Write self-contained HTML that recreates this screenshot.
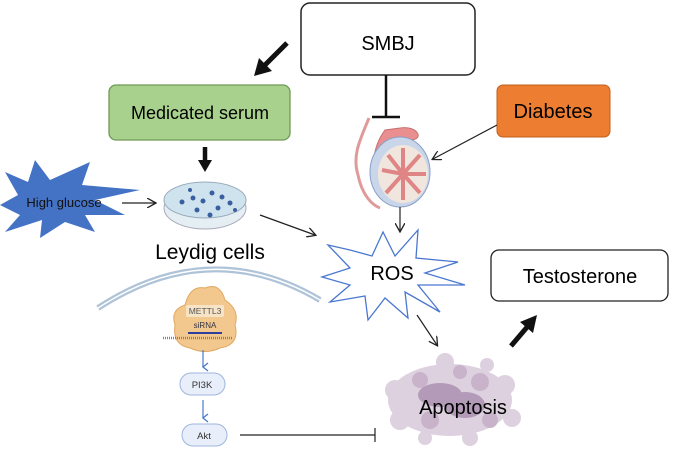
<!DOCTYPE html>
<html><head><style>
html,body{margin:0;padding:0;background:#fff;}
svg{display:block;font-family:"Liberation Sans",Arial,sans-serif;}
</style></head><body>
<svg width="685" height="451" viewBox="0 0 685 451" xmlns="http://www.w3.org/2000/svg">
<defs>
<marker id="a" markerWidth="10" markerHeight="10" refX="8" refY="5" orient="auto" markerUnits="userSpaceOnUse"><path d="M0,0 L9,5 L0,10" fill="none" stroke="#222" stroke-width="1.3"/></marker>
<marker id="b" markerWidth="10" markerHeight="10" refX="5" refY="8" orient="auto" markerUnits="userSpaceOnUse"><path d="M1,3 L5,8 L9,3" fill="none" stroke="#4a78d0" stroke-width="1.3"/></marker>
</defs>
<rect x="301" y="3" width="174" height="72" rx="9" fill="#fff" stroke="#222" stroke-width="1.5"/>
<text x="388" y="50" font-size="20" text-anchor="middle">SMBJ</text>
<line x1="287" y1="43" x2="265" y2="65" stroke="#111" stroke-width="5"/>
<polygon points="254,76 259,58 272,71" fill="#111"/>
<rect x="109" y="85" width="181" height="55" rx="7" fill="#a9d18e" stroke="#6f9a55" stroke-width="1.3"/>
<text x="200" y="119" font-size="18" text-anchor="middle">Medicated serum</text>
<line x1="205" y1="147" x2="205" y2="162" stroke="#111" stroke-width="4.5"/>
<polygon points="198,160 212,160 205,172" fill="#111"/>
<rect x="497" y="85" width="113" height="52" rx="6" fill="#ed7d31" stroke="#c05f1c"/>
<text x="553" y="118" font-size="20" text-anchor="middle">Diabetes</text>
<line x1="497" y1="125" x2="433" y2="159" stroke="#222" stroke-width="1.2" marker-end="url(#a)"/>
<line x1="386" y1="75" x2="386" y2="116" stroke="#111" stroke-width="2.5"/>
<line x1="372" y1="117" x2="400" y2="117" stroke="#111" stroke-width="2.5"/>
<path d="M369,118 C360,140 352,155 358,175 C362,195 372,205 380,208" fill="none" stroke="#e09a9a" stroke-width="3"/>
<path d="M385,130 C370,150 372,175 378,190 C372,170 380,145 410,140 C425,140 418,125 400,128 Z" fill="#e98f8f" stroke="#c87070"/>
<ellipse cx="400" cy="172" rx="30" ry="35" fill="#c9d6ea" stroke="#8aa0c8"/>
<ellipse cx="403" cy="174" rx="25" ry="29" fill="#f1e6dd"/>
<g stroke="#e08585" stroke-width="4">
<line x1="403" y1="174" x2="403" y2="148"/><line x1="403" y1="174" x2="420" y2="155"/><line x1="403" y1="174" x2="426" y2="174"/><line x1="403" y1="174" x2="420" y2="193"/><line x1="403" y1="174" x2="403" y2="200"/><line x1="403" y1="174" x2="386" y2="193"/><line x1="403" y1="174" x2="382" y2="170"/><line x1="403" y1="174" x2="388" y2="155"/>
</g>
<line x1="400" y1="207" x2="400" y2="231" stroke="#222" stroke-width="1.2" marker-end="url(#a)"/>
<polygon points="5,172 28,182 35,160 50,180 90,162 82,185 140,190 95,200 125,215 85,215 95,232 65,222 40,238 42,220 5,232 20,215 0,205 18,195" fill="#4472c4"/>
<text x="64" y="207" font-size="13" text-anchor="middle" fill="#111">High glucose</text>
<line x1="122" y1="203" x2="155" y2="203" stroke="#222" stroke-width="1.2" marker-end="url(#a)"/>
<ellipse cx="205" cy="208" rx="41" ry="21" fill="#e4eef3" stroke="#aab"/>
<ellipse cx="205" cy="200" rx="41" ry="18" fill="#cfe3ee" stroke="#99aabb"/>
<g fill="#3a5fa0">
<circle cx="182" cy="202" r="2.5"/><circle cx="193" cy="198" r="2.5"/><circle cx="203" cy="201" r="2.5"/><circle cx="212" cy="193" r="2.5"/><circle cx="222" cy="197" r="2.5"/><circle cx="218" cy="208" r="2.5"/><circle cx="230" cy="203" r="2.5"/><circle cx="197" cy="210" r="2.5"/><circle cx="210" cy="215" r="2.5"/><circle cx="190" cy="190" r="2"/><circle cx="235" cy="210" r="2"/>
</g>
<text x="210" y="259" font-size="21" text-anchor="middle">Leydig cells</text>
<line x1="260" y1="215" x2="315" y2="235" stroke="#222" stroke-width="1.2" marker-end="url(#a)"/>
<polygon points="350,250 372,256 383,232 395,256 418,230 416,258 458,262 425,273 465,285 418,285 440,312 405,292 408,318 385,298 368,320 365,296 330,302 350,285 322,277 350,268 328,245" fill="#fff" stroke="#4a78d0" stroke-width="1.3"/>
<text x="392" y="280" font-size="20" text-anchor="middle">ROS</text>
<line x1="417" y1="315" x2="437" y2="345" stroke="#222" stroke-width="1.2" marker-end="url(#a)"/>
<rect x="491" y="250" width="177" height="51" rx="8" fill="#fff" stroke="#222" stroke-width="1.3"/>
<text x="580" y="283" font-size="20" text-anchor="middle">Testosterone</text>
<line x1="511" y1="346" x2="528" y2="326" stroke="#111" stroke-width="5"/>
<polygon points="537,315 533,333 520,322" fill="#111"/>
<g fill="#ddd0df">
<ellipse cx="450" cy="400" rx="62" ry="36"/><circle cx="395" cy="390" r="10"/><circle cx="400" cy="420" r="10"/><circle cx="505" cy="385" r="10"/><circle cx="512" cy="418" r="9"/><circle cx="445" cy="362" r="9"/><circle cx="470" cy="438" r="8"/><circle cx="425" cy="438" r="7"/><circle cx="487" cy="365" r="7"/>
</g>
<g fill="#c8b3cb"><circle cx="420" cy="380" r="8"/><circle cx="480" cy="382" r="9"/><circle cx="430" cy="420" r="9"/><circle cx="490" cy="420" r="8"/><circle cx="460" cy="372" r="7"/></g>
<g fill="#a88daf" opacity="0.8"><ellipse cx="440" cy="395" rx="22" ry="12"/><ellipse cx="465" cy="405" rx="20" ry="13"/></g>
<text x="463" y="414" font-size="20" text-anchor="middle">Apoptosis</text>
<path d="M98,308 Q210,235 320,300" fill="none" stroke="#aec3d8" stroke-width="6"/>
<path d="M98,308 Q210,235 320,300" fill="none" stroke="#fff" stroke-width="1.5"/>
<path d="M185,305 Q190,285 205,288 Q220,282 225,300 Q240,310 235,325 Q240,345 220,348 Q205,355 190,348 Q172,345 175,325 Q170,310 185,305 Z" fill="#f3c88e" stroke="#e0a860"/>
<rect x="186" y="305" width="38" height="12" rx="2" fill="#f7e3c6"/>
<text x="205" y="314" font-size="8.5" text-anchor="middle" fill="#555">METTL3</text>
<text x="205" y="328" font-size="8" text-anchor="middle" fill="#334">siRNA</text>
<line x1="188" y1="333" x2="222" y2="333" stroke="#2d3f9a" stroke-width="2"/>
<line x1="163" y1="338" x2="232" y2="338" stroke="#e8603a" stroke-width="2.5" stroke-dasharray="1 1"/>
<line x1="203" y1="350" x2="203" y2="367" stroke="#4a78d0" stroke-width="1.2" marker-end="url(#b)"/>
<rect x="180" y="373" width="45" height="22" rx="11" fill="#e8eefa" stroke="#9fb5e0"/>
<text x="202" y="388" font-size="9.5" text-anchor="middle" fill="#333">PI3K</text>
<line x1="203" y1="400" x2="203" y2="418" stroke="#4a78d0" stroke-width="1.2" marker-end="url(#b)"/>
<rect x="182" y="424" width="45" height="22" rx="11" fill="#e8eefa" stroke="#9fb5e0"/>
<text x="204" y="439" font-size="9.5" text-anchor="middle" fill="#333">Akt</text>
<line x1="240" y1="435" x2="375" y2="435" stroke="#222" stroke-width="1.2"/>
<line x1="375" y1="428" x2="375" y2="442" stroke="#222" stroke-width="1.2"/>
</svg>
</body></html>
